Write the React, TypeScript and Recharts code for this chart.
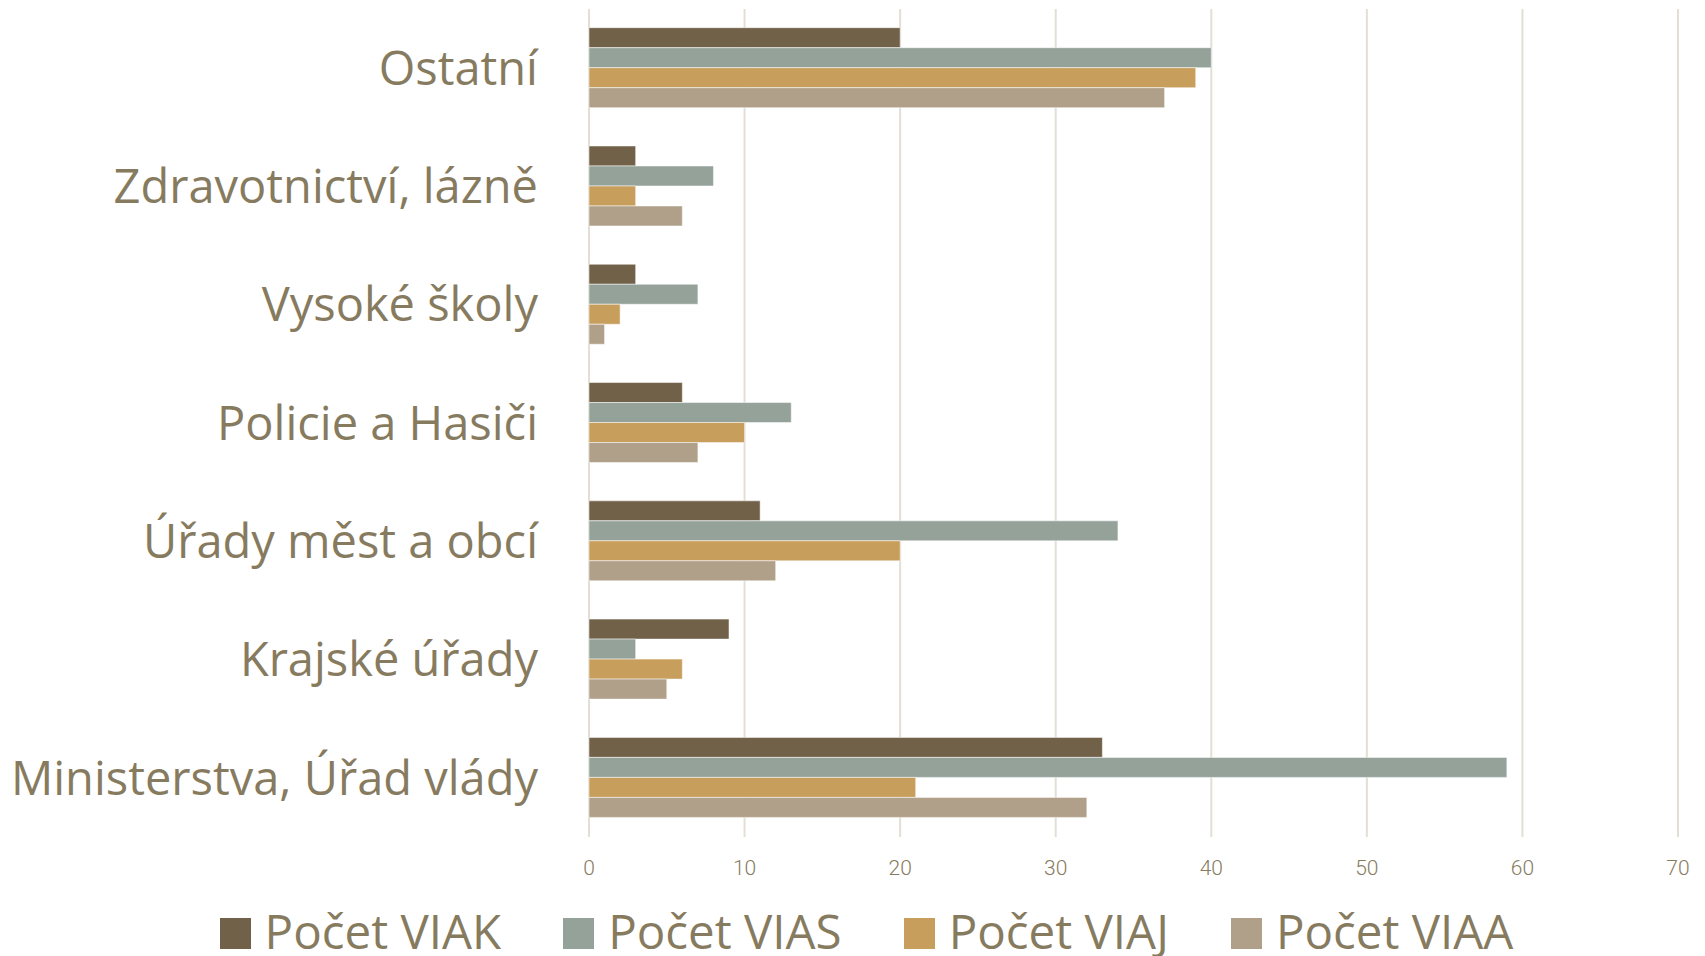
import React from 'react';
import { BarChart, Bar, XAxis, YAxis, CartesianGrid, Legend } from 'recharts';

const categories = [
  'Ostatní',
  'Zdravotnictví, lázně',
  'Vysoké školy',
  'Policie a Hasiči',
  'Úřady měst a obcí',
  'Krajské úřady',
  'Ministerstva, Úřad vlády',
];
const viak = [20, 3, 3, 6, 11, 9, 33];
const vias = [40, 8, 7, 13, 34, 3, 59];
const viaj = [39, 3, 2, 10, 20, 6, 21];
const viaa = [37, 6, 1, 7, 12, 5, 32];
const xTicks = [0, 10, 20, 30, 40, 50, 60, 70];

const series = [
  { key: 'viak', name: 'Počet VIAK', color: '#726149' },
  { key: 'vias', name: 'Počet VIAS', color: '#94a29a' },
  { key: 'viaj', name: 'Počet VIAJ', color: '#c89e5c' },
  { key: 'viaa', name: 'Počet VIAA', color: '#b0a089' },
];

const data = categories.map((name, i) => ({
  name,
  viak: viak[i],
  vias: vias[i],
  viaj: viaj[i],
  viaa: viaa[i],
}));

const TEXT = '#877b5f';

const CategoryTick = (props: any) => {
  const { x, y, payload } = props;
  return (
    <text x={x - 51} y={y} dy="0.355em" textAnchor="end" fill={TEXT}
      style={{ fontFamily: '"Open Sans", sans-serif', fontSize: 47 }}>
      {payload.value}
    </text>
  );
};

const ValueTick = (props: any) => {
  const { x, y, payload } = props;
  return (
    <text x={x} y={y + 38} textAnchor="middle" fill={TEXT}
      style={{ fontFamily: 'Roboto, sans-serif', fontWeight: 300, fontSize: 21 }}>
      {payload.value}
    </text>
  );
};

const LegendContent = () => (
  <div style={{
    height: 50, lineHeight: '50px', fontSize: 47.5, fontFamily: '"Open Sans", sans-serif',
    color: TEXT, textAlign: 'center', whiteSpace: 'nowrap', paddingLeft: 55,
  }}>
    {series.map((s, i) => (
      <span key={s.key} style={{ marginRight: i < series.length - 1 ? 62 : 0 }}>
        <span style={{ display: 'inline-block', width: 31, height: 31, background: s.color, marginRight: 14 }} />
        {s.name}
      </span>
    ))}
  </div>
);

const App = () => {
  return (
    <div style={{ position: 'absolute', left: 0, top: 0, background: '#fff' }}>
      <BarChart
        width={1705}
        height={956}
        data={data}
        layout="vertical"
        margin={{ top: 9, right: 27, bottom: 0, left: 0 }}
        barCategoryGap="15.8%"
        barGap={0}
      >
        <CartesianGrid horizontal={false} stroke="#e3dfd5" strokeWidth={2} />
        <XAxis type="number" domain={[0, 70]} ticks={xTicks} axisLine={false} tickLine={false}
          tickSize={0} tickMargin={0} height={69} tick={<ValueTick />} interval={0} />
        <YAxis type="category" dataKey="name" axisLine={false} tickLine={false}
          tickSize={0} tickMargin={0} width={589} tick={<CategoryTick />} interval={0} />
        <Legend verticalAlign="bottom" content={<LegendContent />} />
        {series.map((s) => (
          <Bar key={s.key} dataKey={s.key} name={s.name} fill={s.color}
            stroke="#ffffff" strokeOpacity={0.5} strokeWidth={1} isAnimationActive={false} />
        ))}
      </BarChart>
    </div>
  );
};

export default App;
